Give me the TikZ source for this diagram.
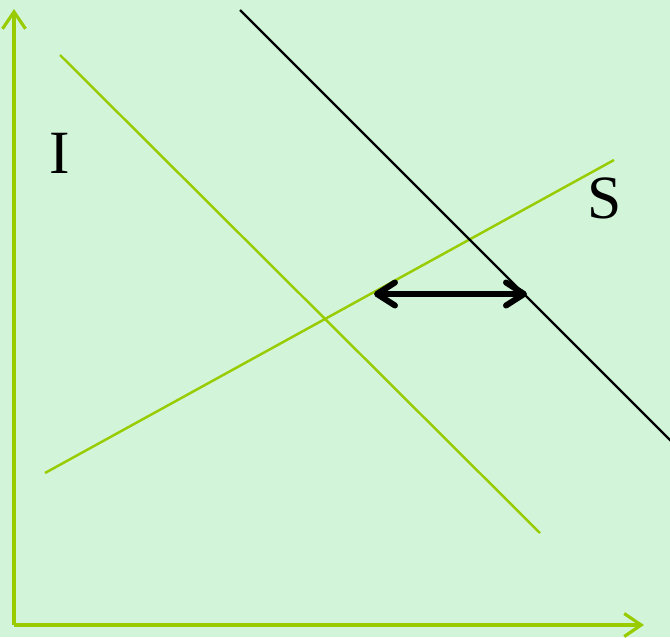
\documentclass[tikz,border=0pt]{standalone}
\usepackage{fontspec}
\setmainfont{Liberation Serif}
\usetikzlibrary{arrows.meta}
\definecolor{mint}{RGB}{210,245,218}
\definecolor{lime}{RGB}{153,204,0}
\tikzset{
  axis/.style={draw=lime,line width=2pt,-{Straight Barb[length=3.4mm,width=4.6mm,line width=1.8pt]}},
  curve/.style={draw=#1,line width=1.4pt},
  curve/.default=lime,
  shift arrow/.style={draw=black,line width=3.4pt,
    {Straight Barb[length=3.6mm,width=4.6mm,round]}-{Straight Barb[length=3.6mm,width=4.6mm,round]}},
  lbl/.style={font=\fontsize{35}{35}\selectfont,inner sep=0pt}
}

\begin{document}
\begin{tikzpicture}[x=0.02cm,y=-0.02cm]
  \fill[mint] (0,0) rectangle (670,637);
  \useasboundingbox (0,0) rectangle (670,637);
  % axes
  \coordinate (o) at (14,625);
  \coordinate (ytop) at (14,9);
  \coordinate (xend) at (644,625);
  \draw[axis] (o) -- (ytop);
  \draw[axis] (o) -- (xend);
  % investment and saving
  \coordinate (i1) at (60,55);
  \coordinate (i2) at (540,533);
  \coordinate (s1) at (45,473);
  \coordinate (s2) at (614,160);
  \coordinate (n1) at (240,10);
  \coordinate (n2) at (672,442);
  \draw[curve] (i1) -- (i2);
  \draw[curve] (s1) -- (s2);
  \draw[curve=black] (n1) -- (n2);
  % gap
  \coordinate (g1) at (374,294);
  \coordinate (g2) at (527,294);
  \draw[shift arrow] (g1) -- (g2);
  \node[lbl] (labI) at (60,153) {I};
  \node[lbl] (labS) at (605,198) {S};
\end{tikzpicture}
\end{document}
